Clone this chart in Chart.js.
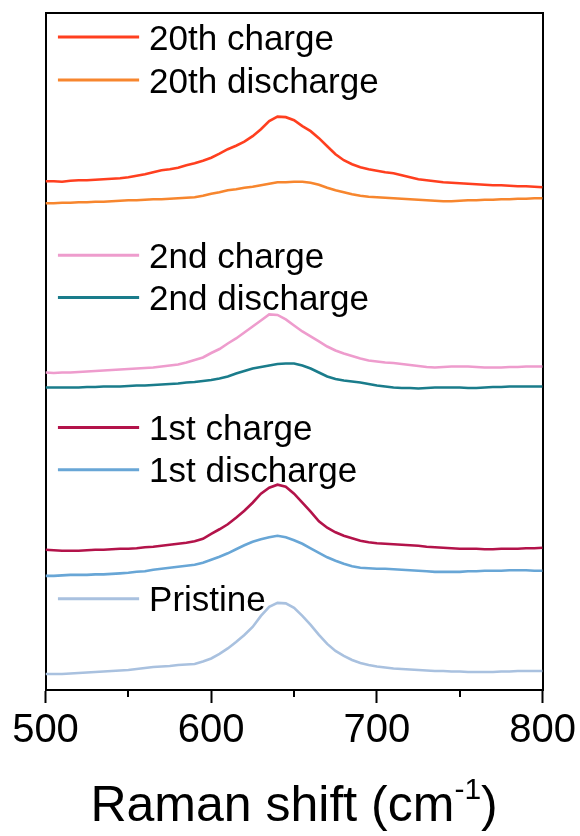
<!DOCTYPE html>
<html>
<head>
<meta charset="utf-8">
<script src="https://cdn.jsdelivr.net/npm/chart.js@4.4.1/dist/chart.umd.min.js"></script>
<style>
  html, body { margin: 0; padding: 0; background: #ffffff; }
  #wrap { width: 580px; height: 836px; }
</style>
</head>
<body>
<div id="wrap"><canvas id="raman" width="580" height="836"></canvas></div>
<script>
// Raman shift axis (cm-1)
const wavenumber = [500,505,510,515,520,525,530,535,540,545,550,555,560,565,570,575,580,585,590,595,
  600,605,610,615,620,625,630,635,640,645,650,655,660,665,670,675,680,685,690,695,
  700,705,710,715,720,725,730,735,740,745,750,755,760,765,770,775,780,785,790,795,800];

// Stacked intensities (a.u., offset per spectrum)
const charge20 = [508,508,507.5,508.5,509,509,509.5,510,510.5,511,512,513.5,515,517,519,520,521.5,524,526,528.5,
  531.5,535.5,540,543.5,547.5,553,560,568,572.5,572,569,563,558,551,543,535,529,525,522,520,
  518.5,517,516,514,512,510,509,508,507,506.5,506,505.5,505,504.5,504,504,503.5,503,503,502.5,502];
const discharge20 = [486,486,486.5,486.5,487,487,487.5,487.5,488,488.5,489,489,489.5,490,490,490.5,491,491.5,492,493.5,
  495.5,497,499,500,501.5,502.5,504,505.5,507,507,507.5,507.5,506.5,504.5,501.5,499,497,495,493.5,492.5,
  492,491.5,491,490.5,490,489.5,489,488.5,488,488,488.5,489,489,489.5,489.5,490,490,490.5,490.5,491,491];
const charge2 = [317,316.5,317,317,317.5,318,318.5,319,319.5,320,320.5,321,321.5,322,323,324,325,327,329.5,332,
  336.5,340.5,346,351,357,363,369,375,374.5,370,364,358,353,348,343,339,336,333.5,331,329,
  328,327,326.5,325.5,324.5,323.5,322.5,322,322.5,323,323,323,322.5,322,322,322,322.5,322.5,323,323,323];
const discharge2 = [302,302,302,302,302,302.5,302.5,303,303,303,303.5,304,304,304.5,305,305.5,306,307,307.5,308.5,
  309.5,311,313,316,318.5,321,322.5,324,325.5,326,326,324,321,317,313,310.5,309,308,307,305.5,
  304,303,302,301.5,301.5,301,301.5,302,302,302,302,301.5,301.5,302,302.5,302.5,303,303,303,303,303];
const charge1 = [140,139.5,139,139,139,139.5,140,140,140.5,141,141,141.5,142.5,143,144,145,146,147,148.5,151,
  156,160.5,165.5,172,179,187,196,202,205,203,196,187,178,168.5,162,157.5,154,151.5,149,147.5,
  146.5,146,145.5,145,144.5,144,143,142.5,142,141.5,141,141,141,140.5,140.5,141,141,141,141.5,141.5,142];
const discharge1 = [114,114,114.5,115,115,115,115.5,115.5,116,116.5,117,118,118.5,120,121,122,123,124,125,127,
  130,133,136.5,140.5,144.5,148,150.5,152.5,154,152.5,149.5,146,141.5,137,132.5,129,126,123.5,122,121.5,
  121,121,120.5,120,119.5,119,118.5,118,118,118,118,118.5,118.5,119,119,119,119.5,119.5,119.5,119,119];
const pristine = [16,16,16,16.5,17,17.5,18,18.5,19,19.5,20,21,22,23,23.5,24,25,25.5,26,28.5,
  31.5,36,41.5,48,55,63,74,83,87,86.5,82,74,65,55,46,39,34,30,27,25,
  23.5,22.5,21.5,21,20.5,20,19.5,19,19,18.5,18.5,18,18,18,18,18.5,18.5,19,19,19,19];

const seriesNames = ['20th charge','20th discharge','2nd charge','2nd discharge','1st charge','1st discharge','Pristine'];
const seriesValues = [charge20, discharge20, charge2, discharge2, charge1, discharge1, pristine];
const seriesColors = ['#FF3F1F','#F7862E','#EE9CCD','#1A7C8B','#B3134A','#68A6D6','#A9C1DF'];
// vertical anchor of each key entry, in intensity units
const keyLevels = [652, 609, 434, 392, 262, 220, 91];

const FONT = "'Liberation Sans', Arial, Helvetica, sans-serif";

const datasets = seriesNames.map((name, i) => ({
  label: name,
  data: wavenumber.map((w, j) => ({ x: w, y: seriesValues[i][j] })),
  borderColor: seriesColors[i],
  borderWidth: 2.6,
  pointRadius: 0,
  tension: 0,
  fill: false
}));

// Inline key entries placed beside each pair of spectra
const inlineKey = {
  id: 'inlineKey',
  afterDatasetsDraw(chart) {
    const { ctx, scales: { x, y } } = chart;
    ctx.save();
    ctx.font = '35px ' + FONT;
    ctx.textAlign = 'left';
    ctx.textBaseline = 'alphabetic';
    seriesNames.forEach((name, i) => {
      const py = y.getPixelForValue(keyLevels[i]);
      ctx.strokeStyle = seriesColors[i];
      ctx.lineWidth = 3;
      ctx.beginPath();
      ctx.moveTo(x.getPixelForValue(507.5), py);
      ctx.lineTo(x.getPixelForValue(556.5), py);
      ctx.stroke();
      ctx.fillStyle = '#000';
      ctx.fillText(name, x.getPixelForValue(562.5), py + 12.5);
    });
    ctx.restore();
  }
};

// Minor ticks between labelled wavenumbers
const minorTicks = {
  id: 'minorTicks',
  afterDraw(chart) {
    const { ctx, scales: { x }, chartArea } = chart;
    ctx.save();
    ctx.strokeStyle = '#000';
    ctx.lineWidth = 2;
    [550, 650, 750].forEach(v => {
      const px = Math.round(x.getPixelForValue(v));
      ctx.beginPath();
      ctx.moveTo(px, chartArea.bottom);
      ctx.lineTo(px, chartArea.bottom + 7);
      ctx.stroke();
    });
    ctx.restore();
  }
};

// Axis title with superscript unit
const axisTitle = {
  id: 'axisTitle',
  afterDraw(chart) {
    const { ctx, chartArea } = chart;
    const main1 = 'Raman shift (cm', sup = '-1', main2 = ')';
    ctx.save();
    ctx.fillStyle = '#000';
    ctx.textBaseline = 'alphabetic';
    ctx.font = '50px ' + FONT;
    const w1 = ctx.measureText(main1).width;
    const w3 = ctx.measureText(main2).width;
    ctx.font = '30px ' + FONT;
    const w2 = ctx.measureText(sup).width;
    const total = w1 + w2 + w3;
    let sx = (chartArea.left + chartArea.right) / 2 - total / 2;
    const base = 821;
    ctx.font = '50px ' + FONT;
    ctx.fillText(main1, sx, base);
    ctx.font = '30px ' + FONT;
    ctx.fillText(sup, sx + w1, base - 22);
    ctx.font = '50px ' + FONT;
    ctx.fillText(main2, sx + w1 + w2, base);
    ctx.restore();
  }
};

new Chart(document.getElementById('raman'), {
  type: 'line',
  data: { datasets },
  options: {
    responsive: false,
    animation: false,
    layout: { padding: { top: 13, left: 45.5, right: 32, bottom: 77 } },
    plugins: { legend: { display: false }, tooltip: { enabled: false } },
    scales: {
      x: {
        type: 'linear', position: 'bottom', min: 500, max: 800,
        ticks: { stepSize: 100, color: '#000', font: { size: 40, family: FONT }, padding: 4, maxRotation: 0 },
        grid: { drawOnChartArea: false, drawTicks: true, tickLength: 13, tickWidth: 2, tickColor: '#000' },
        border: { display: true, color: '#000', width: 2 }
      },
      xTop: {
        type: 'linear', position: 'top', min: 500, max: 800,
        ticks: { display: false },
        grid: { display: false, drawTicks: false },
        border: { display: true, color: '#000', width: 2 }
      },
      y: {
        type: 'linear', position: 'left', min: 0, max: 676,
        ticks: { display: false },
        grid: { display: false, drawTicks: false },
        border: { display: true, color: '#000', width: 2 }
      },
      yRight: {
        type: 'linear', position: 'right', min: 0, max: 676,
        ticks: { display: false },
        grid: { display: false, drawTicks: false },
        border: { display: true, color: '#000', width: 2 }
      }
    }
  },
  plugins: [inlineKey, minorTicks, axisTitle]
});
</script>
</body>
</html>
